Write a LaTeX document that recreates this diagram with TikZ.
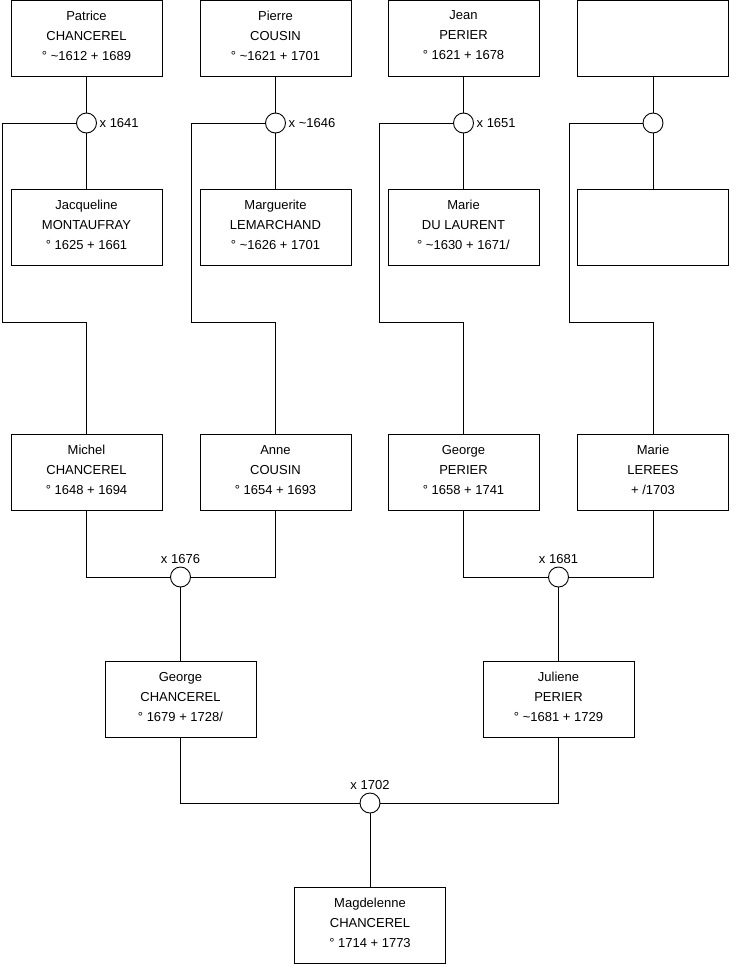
\documentclass[tikz,border=0pt]{standalone}
\usepackage{fontspec}
\setmainfont{Liberation Sans}
\usetikzlibrary{positioning}

\begin{document}
\begin{tikzpicture}[
    x=1pt, y=-1pt,
    font=\fontsize{13}{20}\selectfont,
    person/.style={rectangle, draw=black, line width=0.9pt, minimum width=151pt, minimum height=76pt, align=center, inner sep=2pt, text depth=5pt},
    union/.style={circle, draw=black, line width=0.9pt, fill=white, minimum size=20pt, inner sep=0pt},
    year/.style={inner sep=2.5pt},
    link/.style={line width=0.9pt}
]
    \useasboundingbox (0,0) rectangle (740,975);

    % Great-grandparents (fathers)
    \node[person] (patrice) at (86.5,38) {Patrice\\CHANCEREL\\° \textasciitilde1612 + 1689};
    \node[person] (pierre) at (275.5,38) {Pierre\\COUSIN\\° \textasciitilde1621 + 1701};
    \node[person] (jean) at (463.5,38) {Jean\\PERIER\\° 1621 + 1678};
    \node[person] (unknownf) at (653,38) {};

    % Great-grandparents (mothers)
    \node[person] (jacqueline) at (86.5,227) {Jacqueline\\MONTAUFRAY\\° 1625 + 1661};
    \node[person] (marguerite) at (275.5,227) {Marguerite\\LEMARCHAND\\° \textasciitilde1626 + 1701};
    \node[person] (mariedl) at (463.5,227) {Marie\\DU LAURENT\\° \textasciitilde1630 + 1671/};
    \node[person] (unknownm) at (653,227) {};

    % First marriages
    \node[union] (m1641) at (86.5,123) {};
    \node[union] (m1646) at (275.5,123) {};
    \node[union] (m1651) at (463.5,123) {};
    \node[union] (mnone) at (653,123) {};
    \node[year, right=0pt of m1641] (l1641) {x 1641};
    \node[year, right=0pt of m1646] (l1646) {x \textasciitilde1646};
    \node[year, right=0pt of m1651] (l1651) {x 1651};

    % Grandparents
    \node[person] (michel) at (86.5,472.5) {Michel\\CHANCEREL\\° 1648 + 1694};
    \node[person] (anne) at (275.5,472.5) {Anne\\COUSIN\\° 1654 + 1693};
    \node[person] (georgep) at (463.5,472.5) {George\\PERIER\\° 1658 + 1741};
    \node[person] (mariel) at (653,472.5) {Marie\\LEREES\\+ /1703};

    % Second marriages
    \node[union] (m1676) at (180.5,577) {};
    \node[union] (m1681) at (558.5,577) {};
    \node[year, above=0pt of m1676] (l1676) {x 1676};
    \node[year, above=0pt of m1681] (l1681) {x 1681};

    % Parents
    \node[person] (georgec) at (180.5,699.5) {George\\CHANCEREL\\° 1679 + 1728/};
    \node[person] (juliene) at (558.5,699.5) {Juliene\\PERIER\\° \textasciitilde1681 + 1729};

    % Last marriage and child
    \node[union] (m1702) at (370,803) {};
    \node[year, above=0pt of m1702] (l1702) {x 1702};
    \node[person] (magdelenne) at (370,925.5) {Magdelenne\\CHANCEREL\\° 1714 + 1773};

    % Links top
    \draw[link] (patrice) -- (m1641) -- (jacqueline);
    \draw[link] (pierre) -- (m1646) -- (marguerite);
    \draw[link] (jean) -- (m1651) -- (mariedl);
    \draw[link] (unknownf) -- (mnone) -- (unknownm);
    \draw[link] (m1641) -- (2,123) -- (2,322) -| (michel);
    \draw[link] (m1646) -- (191,123) -- (191,322) -| (anne);
    \draw[link] (m1651) -- (379,123) -- (379,322) -| (georgep);
    \draw[link] (mnone) -- (569,123) -- (569,322) -| (mariel);

    % Links middle
    \draw[link] (michel) |- (m1676);
    \draw[link] (anne) |- (m1676);
    \draw[link] (georgep) |- (m1681);
    \draw[link] (mariel) |- (m1681);
    \draw[link] (m1676) -- (georgec);
    \draw[link] (m1681) -- (juliene);

    % Links bottom
    \draw[link] (georgec) |- (m1702);
    \draw[link] (juliene) |- (m1702);
    \draw[link] (m1702) -- (magdelenne);
\end{tikzpicture}
\end{document}
